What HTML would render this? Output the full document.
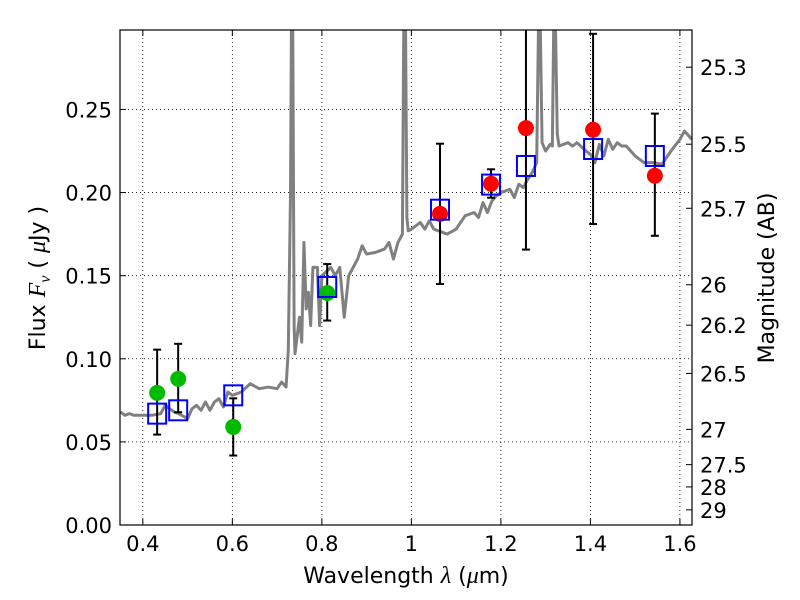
<!DOCTYPE html>
<html><head><meta charset="utf-8"><style>
body{margin:0;background:#fff;}
svg{display:block;font-family:"DejaVu Sans","Liberation Sans",sans-serif;}
</style></head><body>
<svg id="chart" width="800" height="600">
<rect x="0" y="0" width="800" height="600" fill="#fff"/>
<g id="grid"></g>
<g id="plot"></g>
<g id="axes"></g>
<text x="406" y="583" font-size="22" text-anchor="middle">Wavelength  <tspan font-style="italic" font-family="Liberation Serif" font-size="24">λ</tspan> (<tspan font-style="italic" font-family="Liberation Serif" font-size="24">μ</tspan>m)</text>
<text transform="translate(45,278) rotate(-90)" font-size="22" text-anchor="middle">Flux  <tspan font-style="italic" font-family="Liberation Serif" font-size="24">F</tspan><tspan font-style="italic" font-family="Liberation Serif" font-size="16" dy="5">ν</tspan><tspan dy="-5">  (  </tspan><tspan font-style="italic" font-family="Liberation Serif" font-size="24">μ</tspan>Jy )</text>
<text transform="translate(774,278) rotate(-90)" font-size="22" text-anchor="middle">Magnitude (AB)</text>
</svg>
<script>
const specWl=[0.35,0.36,0.37,0.38,0.40,0.42,0.44,0.45,0.46,0.47,0.48,0.50,0.51,0.52,0.53,0.54,0.55,0.56,0.57,0.58,0.59,0.60,0.62,0.64,0.66,0.68,0.70,0.71,0.72,0.725,0.73,0.732,0.735,0.738,0.74,0.75,0.755,0.76,0.765,0.77,0.775,0.78,0.79,0.795,0.80,0.82,0.83,0.84,0.85,0.86,0.87,0.88,0.89,0.90,0.92,0.94,0.95,0.96,0.97,0.98,0.983,0.987,0.99,0.993,1.00,1.01,1.02,1.03,1.04,1.05,1.07,1.08,1.10,1.12,1.14,1.15,1.16,1.17,1.18,1.19,1.20,1.22,1.23,1.24,1.25,1.26,1.27,1.28,1.284,1.288,1.292,1.30,1.31,1.315,1.318,1.322,1.326,1.33,1.35,1.36,1.37,1.39,1.40,1.41,1.42,1.43,1.44,1.45,1.46,1.47,1.48,1.50,1.52,1.54,1.56,1.58,1.60,1.61,1.627];
const specFlux=[0.068,0.066,0.067,0.066,0.066,0.066,0.067,0.072,0.070,0.068,0.067,0.064,0.070,0.072,0.069,0.074,0.069,0.074,0.076,0.071,0.080,0.078,0.080,0.085,0.082,0.083,0.082,0.086,0.083,0.105,0.20,0.30,0.30,0.12,0.103,0.125,0.11,0.17,0.13,0.14,0.12,0.155,0.155,0.12,0.15,0.155,0.150,0.155,0.125,0.150,0.155,0.160,0.168,0.163,0.164,0.166,0.170,0.160,0.170,0.175,0.30,0.30,0.185,0.177,0.178,0.18,0.182,0.178,0.183,0.178,0.176,0.175,0.178,0.186,0.188,0.185,0.194,0.188,0.195,0.198,0.200,0.202,0.197,0.205,0.203,0.208,0.212,0.218,0.30,0.30,0.230,0.225,0.229,0.228,0.30,0.30,0.235,0.228,0.230,0.228,0.230,0.225,0.223,0.218,0.229,0.222,0.232,0.226,0.230,0.228,0.228,0.222,0.218,0.218,0.217,0.225,0.232,0.237,0.232];
const greenWl=[0.432,0.479,0.602,0.812];
const greenFlux=[0.0795,0.0879,0.059,0.1396];
const greenLo=[0.0544,0.0678,0.0418,0.123];
const greenHi=[0.1055,0.109,0.0762,0.157];
const redWl=[1.064,1.178,1.256,1.406,1.544];
const redFlux=[0.1872,0.2053,0.2388,0.2378,0.2101];
const redLo=[0.145,0.1969,0.1657,0.1811,0.174];
const redHi=[0.2294,0.214,0.34,0.2955,0.2475];
const modelWl=[0.432,0.479,0.602,0.812,1.064,1.178,1.256,1.406,1.544];
const modelFlux=[0.067,0.069,0.078,0.1432,0.1897,0.2048,0.216,0.2262,0.222];
const xTicks=[0.4,0.6,0.8,1.0,1.2,1.4,1.6];
const xTickLabels=["0.4","0.6","0.8","1","1.2","1.4","1.6"];
const yTicks=[0,0.05,0.10,0.15,0.20,0.25];
const yTickLabels=["0.00","0.05","0.10","0.15","0.20","0.25"];
const magTicks=[25.3,25.5,25.7,26,26.2,26.5,27,27.5,28,29];
const magTickLabels=["25.3","25.5","25.7","26","26.2","26.5","27","27.5","28","29"];

const L=120,R=692,T=30,B=525;
const xMin=0.349,xMax=1.627,yMin=0,yMax=0.2978;
const X=v=>L+(v-xMin)/(xMax-xMin)*(R-L);
const Y=v=>B-(v-yMin)/(yMax-yMin)*(B-T);
const NS="http://www.w3.org/2000/svg";
function mk(tag,attrs,parent){const e=document.createElementNS(NS,tag);for(const k in attrs)e.setAttribute(k,attrs[k]);parent.appendChild(e);return e;}
const grid=document.getElementById('grid'),plot=document.getElementById('plot'),axes=document.getElementById('axes');

const defs=mk('defs',{},document.getElementById('chart'));
const cp=mk('clipPath',{id:'clip'},defs);mk('rect',{x:L,y:T,width:R-L,height:B-T},cp);
plot.setAttribute('clip-path','url(#clip)');

xTicks.forEach((v,i)=>{
  const g=mk('line',{x1:X(v),x2:X(v),y1:T,y2:B,stroke:'#000','stroke-width':0.8,'stroke-dasharray':'1,3'},grid);
  
  
  mk('line',{x1:X(v),x2:X(v),y1:B,y2:B-6,stroke:'#000'},axes);
  mk('line',{x1:X(v),x2:X(v),y1:T,y2:T+6,stroke:'#000'},axes);
  const t=mk('text',{x:X(v),y:B+26,'font-size':21,'text-anchor':'middle'},axes);
  t.textContent=xTickLabels[i];
  
  
});
yTicks.forEach((v,i)=>{
  const g=mk('line',{x1:L,x2:R,y1:Y(v),y2:Y(v),stroke:'#000','stroke-width':0.8,'stroke-dasharray':'1,3'},grid);
  
  
  mk('line',{x1:L,x2:L+6,y1:Y(v),y2:Y(v),stroke:'#000'},axes);
  const t=mk('text',{x:L-8,y:Y(v)+8,'font-size':21,'text-anchor':'end'},axes);
  t.textContent=yTickLabels[i];
  
  
});
magTicks.forEach((m,i)=>{
  const f=Math.pow(10,(23.9-m)/2.5);const y=Y(f);
  mk('line',{x1:R,x2:R-6,y1:y,y2:y,stroke:'#000'},axes);
  const t=mk('text',{x:R+8,y:y+8,'font-size':21},axes);
  t.textContent=magTickLabels[i];
  
  
});
mk('rect',{x:L,y:T,width:R-L,height:B-T,fill:'none',stroke:'#000','stroke-width':1.2},axes);

const sp=mk('polyline',{points:specWl.map((w,i)=>X(w)+','+Y(specFlux[i])).join(' '),fill:'none',stroke:'#808080','stroke-width':3,'stroke-linejoin':'round'},plot);



function errbars(wl,lo,hi){wl.forEach((w,i)=>{
  const g=mk('g',{},plot);
  
  
  mk('line',{x1:X(w),x2:X(w),y1:Y(lo[i]),y2:Y(hi[i]),stroke:'#000','stroke-width':2},g);
  mk('line',{x1:X(w)-4,x2:X(w)+4,y1:Y(lo[i]),y2:Y(lo[i]),stroke:'#000','stroke-width':2},g);
  mk('line',{x1:X(w)-4,x2:X(w)+4,y1:Y(hi[i]),y2:Y(hi[i]),stroke:'#000','stroke-width':2},g);
});}
errbars(greenWl,greenLo,greenHi);
errbars(redWl,redLo,redHi);
greenWl.forEach((w,i)=>{
  const c=mk('circle',{cx:X(w),cy:Y(greenFlux[i]),r:8,fill:'#00bb00'},plot);
  
  
});
redWl.forEach((w,i)=>{
  const c=mk('circle',{cx:X(w),cy:Y(redFlux[i]),r:8,fill:'#ff0000'},plot);
  
  
});
modelWl.forEach((w,i)=>{
  const r=mk('rect',{x:X(w)-9,y:Y(modelFlux[i])-10,width:18,height:20,fill:'none',stroke:'#0000ff','stroke-width':2},plot);
  
  
});
</script>
</body></html>
